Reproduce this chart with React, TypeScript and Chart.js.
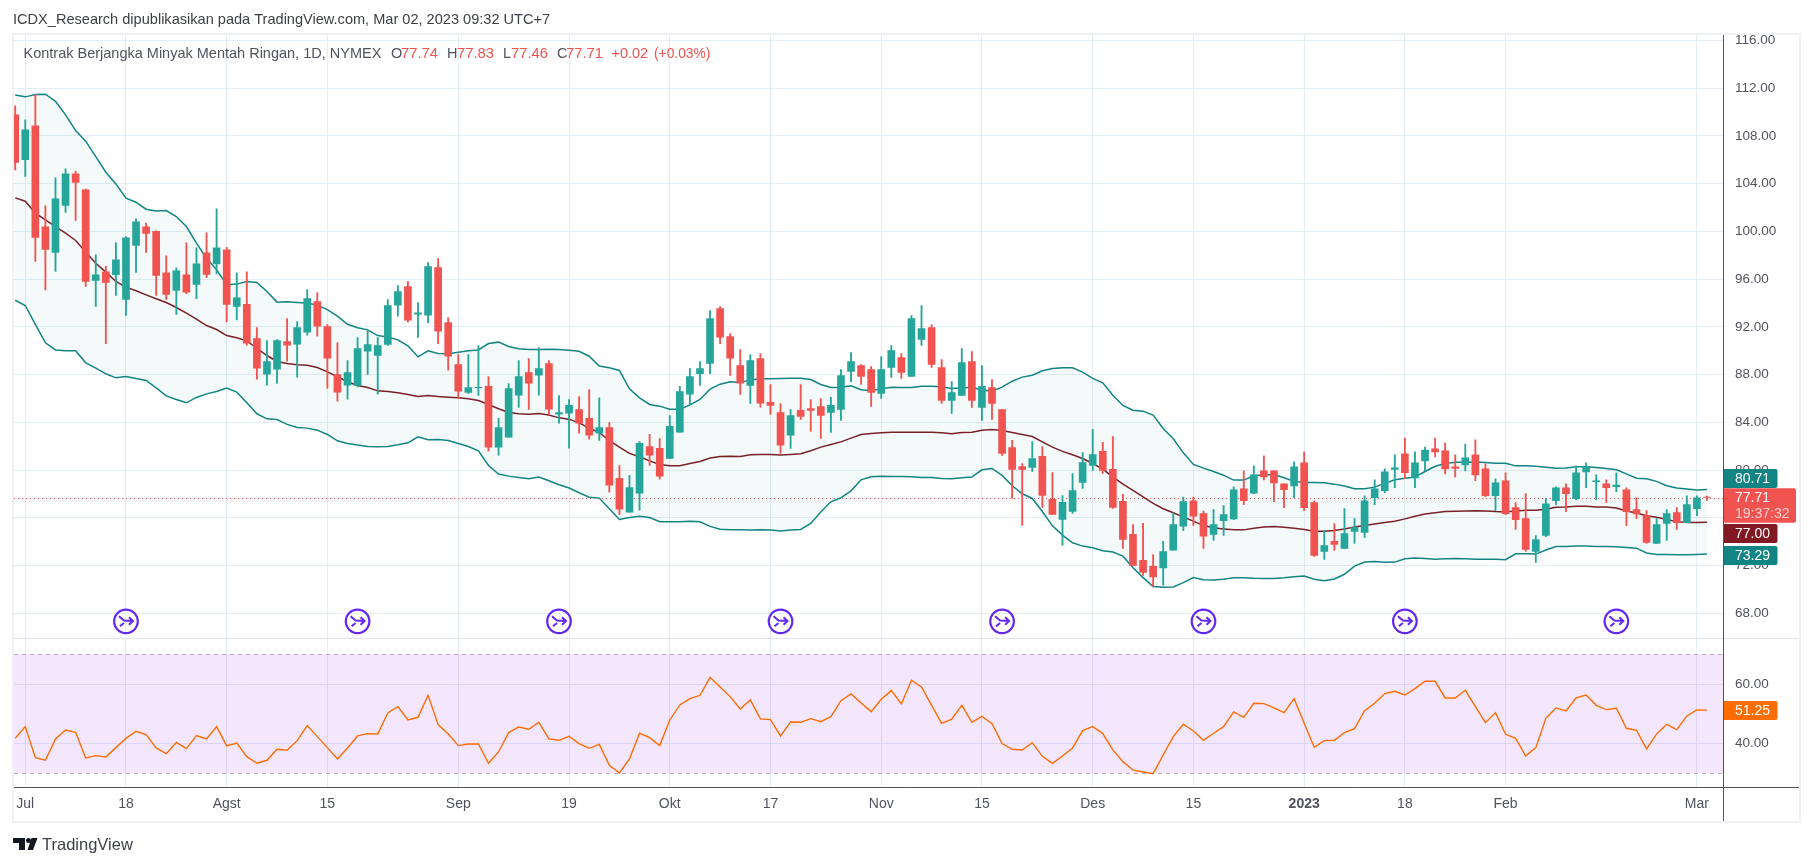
import React, { useEffect, useRef } from "react";
import { Chart, registerables } from "chart.js";

Chart.register(...registerables);

const opens = [109.75,106.01,108.83,100.38,98.23,102.16,104.81,103.47,95.88,96.61,96.36,94.29,98.81,100.38,99.99,96.53,95.05,96.36,95.55,98.20,97.28,98.45,93.71,93.88,91.02,88.04,88.46,90.77,90.55,91.55,94.12,92.03,88.01,87.12,87.09,89.96,89.60,90.52,93.81,95.38,93.06,92.98,96.97,92.36,88.85,86.50,86.90,87.01,81.93,82.76,86.28,88.18,87.96,88.93,84.69,84.77,85.08,84.33,83.10,83.57,79.31,76.49,78.08,81.98,81.82,80.98,83.18,86.36,88.09,88.93,93.53,91.19,88.76,87.09,89.35,85.67,84.83,82.93,85.00,85.16,85.33,84.83,85.08,88.26,88.76,88.43,86.42,88.60,89.43,87.84,90.94,91.94,88.60,85.83,86.25,89.10,85.25,86.92,85.08,81.90,80.31,80.23,81.15,77.55,75.87,76.54,78.97,80.39,81.57,80.06,77.38,74.62,72.44,71.94,71.81,73.31,75.31,77.44,76.36,74.61,75.78,75.92,78.44,78.08,79.94,79.94,78.86,78.69,80.61,77.28,73.19,74.03,73.44,74.86,74.78,77.69,78.28,80.06,81.36,79.36,80.78,81.78,81.61,80.28,80.44,81.28,80.11,77.86,79.11,76.86,75.94,73.19,74.53,77.44,78.53,77.61,79.86,79.03,78.86,78.61,78.36,76.69,76.19,73.86,75.53,76.44,75.61,76.78,77.74];
const closes = [105.76,108.50,99.48,98.48,102.72,104.81,104.09,95.80,96.36,95.72,97.61,99.46,100.80,99.82,96.30,94.71,96.69,94.91,97.28,96.39,98.62,93.88,94.43,90.63,88.54,89.10,90.86,90.47,91.94,94.37,92.06,89.38,86.53,88.18,90.19,90.52,90.44,93.79,94.96,92.56,93.17,97.05,91.64,89.54,86.61,86.92,86.94,81.93,83.57,86.84,87.84,87.28,88.51,85.11,84.83,85.42,83.94,82.93,83.57,78.75,76.74,78.55,82.24,81.26,79.50,83.66,86.59,87.84,88.51,92.70,91.14,89.38,87.28,89.18,85.61,85.42,82.10,84.58,84.50,85.00,84.58,85.42,87.93,89.10,87.84,86.50,88.43,90.02,88.18,92.70,91.86,88.85,85.83,86.50,89.01,85.83,87.01,85.58,81.40,80.06,80.06,80.98,77.88,76.29,77.30,78.30,80.64,81.31,79.98,76.88,74.20,72.02,71.44,71.06,73.19,75.44,77.36,76.14,74.47,75.44,76.28,78.36,77.44,79.61,79.44,78.94,78.36,80.28,76.86,72.86,73.69,73.78,74.69,75.19,77.44,78.44,79.86,80.19,79.78,80.61,81.69,81.53,80.11,80.14,81.03,79.61,77.86,78.94,76.36,75.86,73.36,74.19,77.19,78.53,78.03,79.78,80.28,79.11,78.53,78.75,76.53,76.33,73.94,75.44,76.36,75.61,77.11,77.69,77.71];
const highs = [110.50,109.33,111.48,102.13,104.48,105.23,105.04,103.53,98.03,97.06,99.04,99.57,101.05,100.68,100.04,97.95,96.94,99.04,98.62,99.87,101.88,98.67,96.53,96.61,91.94,90.86,90.94,92.70,92.45,95.12,94.87,92.20,90.69,89.18,91.11,91.69,91.11,94.29,95.46,95.79,94.04,97.38,97.72,92.78,89.68,89.68,90.44,87.84,84.33,87.26,89.18,89.35,90.27,89.18,86.25,85.92,86.17,86.75,86.06,83.99,80.39,79.56,82.40,82.99,82.65,84.58,87.01,88.51,89.10,93.37,93.70,91.44,90.10,89.68,89.77,87.17,85.58,85.08,87.17,85.92,86.00,86.09,88.43,89.85,88.85,88.68,89.52,90.44,89.77,92.95,93.79,92.20,89.27,87.42,90.19,89.94,88.76,87.59,85.08,82.49,80.56,82.40,81.98,79.80,77.88,79.72,81.48,83.41,82.32,82.82,77.97,75.45,75.54,72.94,74.03,76.42,77.75,77.75,76.58,76.69,77.03,78.61,79.94,80.36,81.19,79.94,78.86,80.69,81.53,77.44,74.94,75.53,76.78,75.94,77.86,79.19,80.11,81.28,82.69,81.53,81.94,82.69,82.28,81.28,82.19,82.53,80.53,79.28,79.78,77.28,78.03,74.53,77.61,78.61,78.86,80.36,80.61,79.61,79.19,79.78,78.53,77.69,76.61,75.94,76.69,76.86,77.86,77.86,77.83];
const lows = [105.15,104.59,97.47,95.10,96.64,101.58,100.91,95.38,93.71,90.60,94.63,92.95,96.55,98.23,94.63,94.29,93.04,94.77,94.35,96.11,96.44,92.42,92.59,90.47,87.62,87.12,87.28,89.13,87.79,91.30,91.22,86.87,85.78,85.95,86.98,88.01,86.36,90.44,92.89,92.39,91.11,92.36,90.60,88.37,86.00,86.42,86.25,81.59,81.26,82.76,85.25,85.08,86.28,84.66,83.94,81.84,83.10,82.60,82.50,78.16,76.29,76.49,76.66,80.39,79.25,80.98,83.18,85.50,87.09,88.09,90.60,87.93,86.34,85.58,85.28,84.66,81.40,81.82,84.24,83.24,82.65,83.16,84.16,87.42,87.17,85.33,86.00,87.76,87.68,87.84,90.44,88.60,85.58,84.75,86.25,85.25,84.16,84.24,81.23,77.66,75.37,79.89,76.88,76.29,73.70,76.38,78.47,79.98,79.72,76.79,73.45,72.02,71.19,70.22,70.36,73.31,74.94,75.36,73.44,74.11,74.53,75.86,77.11,78.03,79.19,77.36,76.86,77.69,76.61,72.78,72.53,73.28,73.44,73.86,74.36,77.11,78.11,78.53,79.28,78.53,79.94,81.11,79.69,79.44,79.94,79.11,77.78,76.61,76.28,75.03,73.19,72.28,74.44,77.11,76.53,77.53,78.53,77.53,77.28,78.19,75.36,75.94,73.86,73.86,74.11,75.03,75.61,76.19,77.46];
const upperBand = [111.42,111.26,111.45,111.48,110.89,109.75,108.44,107.55,106.26,104.95,103.97,102.78,102.44,101.85,101.71,101.74,101.24,100.40,99.01,97.75,96.78,95.52,95.58,95.80,95.72,94.96,94.07,94.10,94.04,93.99,93.82,93.45,92.89,92.22,91.92,91.75,91.27,91.16,90.91,90.41,89.49,89.99,89.77,89.74,89.88,89.99,90.07,90.60,90.72,90.35,90.16,90.10,90.10,90.13,90.10,90.05,89.96,89.54,88.72,88.57,88.35,86.81,86.06,85.50,85.36,85.11,85.11,85.47,85.92,86.78,87.20,87.40,87.34,87.56,87.65,87.65,87.68,87.70,87.70,87.59,87.17,86.92,86.95,87.06,86.73,86.64,86.81,86.95,86.92,86.92,87.03,87.03,86.98,86.84,86.89,86.95,86.70,86.64,86.95,87.45,87.79,87.95,88.32,88.51,88.57,88.57,88.21,87.68,87.31,86.28,85.42,85.02,84.94,84.61,83.49,82.63,81.45,80.48,80.17,79.89,79.58,79.17,79.17,79.53,79.61,79.64,79.36,79.06,78.97,78.97,78.94,78.83,78.67,78.44,78.44,78.58,78.89,79.19,79.33,79.42,79.89,80.33,80.56,80.67,80.67,80.69,80.64,80.58,80.58,80.36,80.36,80.33,80.25,80.17,80.19,80.28,80.28,80.22,80.14,80.03,79.69,79.33,79.28,79.06,78.69,78.50,78.42,78.33,78.39];
const basisLine = [102.80,102.52,101.52,100.96,100.40,99.85,99.23,98.26,97.33,96.58,95.80,95.33,95.02,94.68,94.35,94.04,93.62,93.15,92.65,92.11,91.78,91.27,91.08,90.83,90.21,89.60,89.10,88.93,88.82,88.79,88.60,88.23,87.82,87.40,87.09,86.92,86.64,86.59,86.48,86.34,86.17,86.25,86.17,86.11,86.06,85.97,85.83,85.50,85.14,84.83,84.72,84.69,84.75,84.61,84.38,84.27,83.96,83.52,83.15,82.49,81.93,81.40,81.12,80.78,80.48,80.37,80.37,80.56,80.73,81.01,81.15,81.17,81.15,81.29,81.31,81.31,81.26,81.31,81.37,81.62,81.93,82.15,82.37,82.68,82.99,83.07,83.13,83.18,83.18,83.18,83.18,83.18,83.13,83.04,83.16,83.18,83.35,83.41,83.32,83.16,82.99,82.82,82.37,81.93,81.57,81.29,80.98,80.56,80.09,79.44,78.83,78.30,77.77,77.21,76.77,76.43,76.07,75.73,75.36,75.17,75.08,75.00,75.00,75.14,75.25,75.28,75.22,75.14,75.03,74.89,74.89,74.94,75.08,75.25,75.36,75.50,75.61,75.72,75.92,76.14,76.33,76.44,76.53,76.56,76.58,76.61,76.58,76.53,76.50,76.58,76.64,76.64,76.72,76.89,76.92,76.97,76.97,76.92,76.92,76.83,76.58,76.42,76.19,76.06,75.86,75.69,75.61,75.61,75.64];
const lowerBand = [94.23,93.79,92.20,90.66,90.07,89.99,89.99,88.99,88.54,88.07,87.73,87.84,87.68,87.51,86.89,86.22,85.92,85.64,86.09,86.39,86.59,86.87,86.53,85.64,84.72,84.30,84.24,83.83,83.57,83.52,83.35,82.99,82.46,82.24,82.10,81.98,81.96,81.98,82.12,82.29,82.79,82.54,82.57,82.49,82.24,81.98,81.62,80.39,79.67,79.50,79.39,79.28,79.42,79.11,78.78,78.50,78.11,77.74,77.66,76.77,75.87,76.04,76.13,76.04,75.68,75.68,75.68,75.73,75.68,75.29,75.06,75.01,75.01,74.98,75.01,74.98,74.90,74.98,75.04,75.54,76.49,77.35,77.69,78.27,79.19,79.44,79.50,79.47,79.47,79.44,79.39,79.39,79.31,79.28,79.36,79.42,80.03,80.14,79.56,78.69,78.02,77.63,76.54,75.34,74.56,73.92,73.64,73.50,73.25,73.14,72.80,71.83,71.00,70.25,70.19,70.22,70.58,71.00,70.83,70.80,70.86,70.99,70.99,70.94,70.92,70.92,70.99,71.08,71.14,70.86,70.75,70.89,71.28,71.97,72.30,72.36,72.28,72.30,72.58,72.64,72.61,72.55,72.58,72.61,72.58,72.55,72.55,72.53,72.50,73.00,73.00,72.97,73.31,73.61,73.61,73.64,73.64,73.61,73.61,73.58,73.53,73.47,73.06,72.94,72.94,72.92,72.92,72.94,72.97];
const rsiValues = [41.7,45.65,35.14,34.24,41.47,44.52,43.73,35.03,35.82,35.37,38.53,41.69,44.07,42.94,38.42,36.50,40.34,38.19,42.60,41.47,45.65,39.10,40.11,35.48,33.22,34.24,37.97,37.63,40.90,45.99,42.26,38.53,34.69,38.42,42.49,43.28,43.16,50.28,52.43,47.91,48.81,56.27,46.33,43.16,39.21,39.77,39.77,33.22,37.06,43.62,45.54,44.75,47.12,41.47,41.02,42.37,39.89,38.30,39.6,32.54,29.94,34.69,43.39,41.92,39.21,47.91,52.99,55.14,56.27,62.37,59.10,55.82,51.64,54.69,48.25,48.02,42.49,47.23,47.12,48.36,47.34,49.04,54.46,56.72,53.67,50.73,54.91,57.85,53.33,61.36,59.10,52.88,46.78,48.14,52.88,47.12,49.15,46.67,39.89,37.97,37.74,40.23,35.59,33.22,35.70,38.42,44.29,45.65,43.28,37.74,33.78,30.96,30.28,29.72,36.04,42.26,46.44,44.18,41.02,43.39,45.65,50.62,48.81,53.56,53.45,51.98,50.40,55.14,46.78,38.64,40.90,41.02,43.62,44.97,51.07,53.56,56.84,57.63,56.38,58.53,61.02,61.02,55.37,55.37,57.97,52.43,47.0,50.40,43.05,41.69,35.70,38.53,48.47,51.98,50.96,55.37,56.38,52.88,51.41,51.86,45.08,44.41,38.08,43.16,46.44,44.63,49.27,51.3,51.25];

const dayTickIndex = [1, 11, 21, 31, 44, 55, 65, 75, 86, 96, 107, 117, 128, 138, 148, 167];
const dayTickLabels = ["Jul", "18", "Agst", "15", "Sep", "19", "Okt", "17", "Nov", "15", "Des", "15", "2023", "18", "Feb", "Mar"];
const priceTicks = [116, 112, 108, 104, 100, 96, 92, 88, 84, 80, 76, 72, 68];
const rsiTicks = [60, 40];
const markerIndex = [11, 34, 54, 76, 98, 118, 138, 159];
const lastPrice = 77.71;
const rsiBand = [70.25, 29.9];

const RED = "#f05350";
const GREEN = "#26a69a";
const TEAL = "#138484";
const MAROON = "#801922";
const ORANGE = "#ff6d00";
const GRID = "#e4edf4";
const TEXT = "#50535e";
const FONT = '"Liberation Sans", Arial, sans-serif';

const toPoints = (vals: number[]) => vals.map((y, x) => ({ x, y }));

const overlay = {
  id: "overlay",
  beforeDatasetsDraw(chart: any) {
    const { ctx, chartArea: a, scales } = chart;
    const y70 = Math.round(scales.rsi.getPixelForValue(rsiBand[0]));
    const y30 = Math.round(scales.rsi.getPixelForValue(rsiBand[1]));
    ctx.save();
    ctx.fillStyle = "rgba(145,5,235,0.1)";
    ctx.fillRect(a.left, y70, a.right - a.left, y30 - y70);
    ctx.strokeStyle = "#b9a9c9";
    ctx.lineWidth = 1;
    ctx.setLineDash([4, 4]);
    [y70, y30].forEach((y: number) => {
      ctx.beginPath();
      ctx.moveTo(a.left, y + 0.5);
      ctx.lineTo(a.right, y + 0.5);
      ctx.stroke();
    });
    const py = Math.round(scales.y.getPixelForValue(lastPrice)) + 0.5;
    ctx.strokeStyle = RED;
    ctx.setLineDash([1, 3]);
    ctx.beginPath();
    ctx.moveTo(a.left, py);
    ctx.lineTo(a.right, py);
    ctx.stroke();
    ctx.restore();
  },
  afterDraw(chart: any) {
    const { ctx, chartArea: a, scales } = chart;
    const outerR = a.right + 75.5;
    const axisX = Math.floor(a.right);
    const bottom = 821;
    ctx.save();
    // frame
    ctx.strokeStyle = "#f0f1f7";
    ctx.lineWidth = 2;
    ctx.strokeRect(13, 34, outerR - 12, bottom - 33);
    // separators
    ctx.lineWidth = 1;
    ctx.strokeStyle = "#e0e3eb";
    ctx.beginPath();
    ctx.moveTo(a.left, 638.5);
    ctx.lineTo(outerR, 638.5);
    ctx.stroke();
    ctx.strokeStyle = "#50535e";
    ctx.beginPath();
    ctx.moveTo(a.left, 787.5);
    ctx.lineTo(outerR, 787.5);
    ctx.moveTo(axisX + 0.5, 35);
    ctx.lineTo(axisX + 0.5, bottom);
    ctx.stroke();

    // event markers
    const my = scales.y.getPixelForValue(67.34);
    ctx.strokeStyle = "#6427f2";
    markerIndex.forEach((i) => {
      const mx = scales.x.getPixelForValue(i);
      ctx.lineWidth = 2.2;
      ctx.beginPath();
      ctx.arc(mx, my, 11.8, 0, Math.PI * 2);
      ctx.stroke();
      ctx.lineWidth = 2;
      ctx.beginPath();
      ctx.moveTo(mx - 7, my - 5);
      ctx.lineTo(mx - 2, my - 0.8);
      ctx.lineTo(mx + 7, my - 0.3);
      ctx.moveTo(mx + 3, my - 4);
      ctx.lineTo(mx + 7, my - 0.3);
      ctx.lineTo(mx + 3, my + 3.4);
      ctx.moveTo(mx - 6, my + 5);
      ctx.lineTo(mx - 2, my + 1.7);
      ctx.stroke();
    });

    // title, legend, footer
    ctx.textBaseline = "middle";
    ctx.textAlign = "left";
    ctx.fillStyle = "#3d3f47";
    ctx.font = `14.57px ${FONT}`;
    ctx.fillText("ICDX_Research dipublikasikan pada TradingView.com, Mar 02, 2023 09:32 UTC+7", 13, 20);
    ctx.font = `14.5px ${FONT}`;
    ctx.fillStyle = TEXT;
    ctx.fillText("Kontrak Berjangka Minyak Mentah Ringan, 1D, NYMEX", 23.5, 54);
    const parts: [string, number, string, number][] = [
      ["O", 391, TEXT, 14.5], ["77.74", 401, RED, 14.8], ["H", 447, TEXT, 14.5], ["77.83", 457, RED, 14.8],
      ["L", 503, TEXT, 14.5], ["77.46", 511, RED, 14.8], ["C", 557, TEXT, 14.5], ["77.71", 566, RED, 14.8],
      ["+0.02", 611.5, RED, 14.5], ["(+0.03%)", 654, RED, 13.8],
    ];
    parts.forEach(([t, x, c, size]) => {
      ctx.font = `${size}px ${FONT}`;
      ctx.fillStyle = c;
      ctx.fillText(t, x, 54);
    });
    ctx.fillStyle = "#3d3f47";
    ctx.font = `16.5px ${FONT}`;
    ctx.fillText("TradingView", 42, 845);
    ctx.fillStyle = "#131722";
    ctx.beginPath();
    ctx.moveTo(13, 838); ctx.lineTo(25, 838); ctx.lineTo(25, 850); ctx.lineTo(19, 850);
    ctx.lineTo(19, 843); ctx.lineTo(13, 843); ctx.closePath();
    ctx.moveTo(37.5, 838); ctx.lineTo(33, 850); ctx.lineTo(27.5, 850); ctx.lineTo(31.5, 838); ctx.closePath();
    ctx.fill();
    ctx.beginPath();
    ctx.arc(28.5, 840.5, 2.5, 0, Math.PI * 2);
    ctx.fill();

    // price tags
    const tag = (x1: number, y1: number, y2: number, fill: string) => {
      ctx.fillStyle = fill;
      ctx.beginPath();
      ctx.roundRect(axisX + 1, y1, x1 - axisX - 1, y2 - y1, [0, 2, 2, 0]);
      ctx.fill();
    };
    ctx.font = `14px ${FONT}`;
    const tx = a.right + 11.5;
    tag(1777.5, 469, 488, TEAL);
    tag(1796, 488.3, 522.7, RED);
    tag(1777.5, 524, 543, MAROON);
    tag(1777.5, 546, 565, TEAL);
    tag(1777.5, 701, 720, ORANGE);
    ctx.fillStyle = "#ffffff";
    ctx.fillText("80.71", tx, 478.7);
    ctx.fillText("77.71", tx, 498);
    ctx.fillText("77.00", tx, 534);
    ctx.fillText("73.29", tx, 556);
    ctx.fillText("51.25", tx, 710.7);
    ctx.fillStyle = "rgba(255,255,255,0.72)";
    ctx.fillText("19:37:32", tx, 514);
    ctx.restore();
  },
};

export default function App() {
  const ref = useRef<HTMLCanvasElement | null>(null);
  useEffect(() => {
    if (!ref.current) return;
    const fixWidth = (s: any) => { s.width = 75.5; };
    const chart = new Chart(ref.current, {
      type: "bar",
      plugins: [overlay],
      data: {
        datasets: [
          {
            type: "bar", label: "Body", yAxisID: "y", order: 1, grouped: false, barThickness: 7, borderWidth: 0,
            data: opens.map((o, x) => ({ x, y: [o, closes[x]] })) as any,
            backgroundColor: opens.map((o, i) => (closes[i] < o ? RED : GREEN)),
          },
          {
            type: "bar", label: "Wick", yAxisID: "y", order: 2, grouped: false, barThickness: 1.2, borderWidth: 0,
            data: lows.map((l, x) => ({ x, y: [l, highs[x]] })) as any,
            backgroundColor: opens.map((o, i) => (closes[i] < o ? RED : GREEN)),
          },
          {
            type: "line", label: "Upper", yAxisID: "y", order: 5, data: toPoints(upperBand) as any,
            borderColor: TEAL, borderWidth: 1.5, pointRadius: 0, tension: 0, fill: "+1",
            backgroundColor: "rgba(38,166,154,0.055)",
          },
          {
            type: "line", label: "Lower", yAxisID: "y", order: 5, data: toPoints(lowerBand) as any,
            borderColor: TEAL, borderWidth: 1.5, pointRadius: 0, tension: 0,
          },
          {
            type: "line", label: "Basis", yAxisID: "y", order: 5, data: toPoints(basisLine) as any,
            borderColor: MAROON, borderWidth: 1.5, pointRadius: 0, tension: 0,
          },
          {
            type: "line", label: "RSI", yAxisID: "rsi", order: 3, data: toPoints(rsiValues) as any,
            borderColor: ORANGE, borderWidth: 1.4, pointRadius: 0, tension: 0,
          },
        ],
      },
      options: {
        responsive: false,
        animation: false,
        devicePixelRatio: 1,
        layout: { padding: { top: 35, left: 14, right: 14, bottom: 44.7 } },
        plugins: { legend: { display: false }, tooltip: { enabled: false } },
        scales: {
          x: {
            type: "linear", offset: false, min: -0.119, max: 169.64,
            afterBuildTicks: (s: any) => { s.ticks = dayTickIndex.map((value) => ({ value })); },
            afterFit: (s: any) => { s.height = 34; },
            grid: { color: GRID, drawTicks: false, offset: false },
            border: { display: false },
            ticks: {
              autoSkip: false, maxRotation: 0, padding: 8, color: TEXT,
              font: (c: any) => (c.tick && c.tick.value === 128
                ? { family: FONT, size: 14, weight: "bold" }
                : { family: FONT, size: 14 }),
              callback: (v: any) => dayTickLabels[dayTickIndex.indexOf(v)] ?? "",
            },
          },
          y: {
            type: "linear", position: "right", stack: "panes", stackWeight: 603.3, min: 65.92, max: 116.44,
            afterBuildTicks: (s: any) => { s.ticks = priceTicks.map((value) => ({ value })); },
            afterFit: fixWidth,
            grid: { color: GRID, drawTicks: false },
            border: { display: false },
            ticks: { padding: 11.5, color: TEXT, font: { family: FONT, size: 13.5 }, callback: (v: any) => Number(v).toFixed(2) },
          },
          rsi: {
            axis: "y", type: "linear", position: "right", stack: "panes", stackWeight: 149, min: 25.08, max: 75.59,
            afterBuildTicks: (s: any) => { s.ticks = rsiTicks.map((value) => ({ value })); },
            afterFit: fixWidth,
            grid: { color: GRID, drawTicks: false },
            border: { display: false },
            ticks: { padding: 11.5, color: TEXT, font: { family: FONT, size: 13.5 }, callback: (v: any) => Number(v).toFixed(2) },
          },
        },
      } as any,
    });
    return () => chart.destroy();
  }, []);
  return (
    <div style={{ position: "fixed", left: 0, top: 0, width: 1813, height: 866, background: "#ffffff" }}>
      <canvas ref={ref} width={1813} height={866} style={{ display: "block", width: 1813, height: 866 }} />
    </div>
  );
}
